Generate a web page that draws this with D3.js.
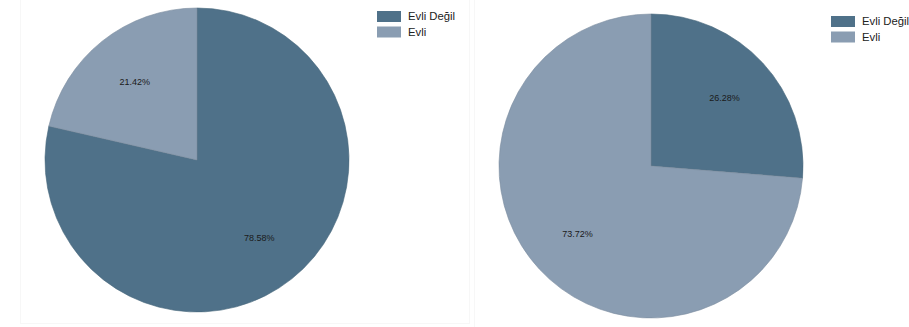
<!DOCTYPE html>
<html>
<head>
<meta charset="utf-8">
<script src="https://cdn.jsdelivr.net/npm/d3@7"></script>
<style>
body { margin: 0; background: #fff; }
svg { display: block; font-family: "Liberation Sans", Arial, sans-serif; }
</style>
</head>
<body>
<svg id="chart" width="909" height="327"></svg>
<script>
const categories = ["Evli Değil", "Evli"];
const leftValues = [78.58, 21.42];
const rightValues = [26.28, 73.72];
const colors = ["#4f7189", "#8a9db2"];

const svg = d3.select("#chart");

const panels = [
  { values: leftValues, x0: 20, x1: 469, y0: -2, y1: 323, cx: 197, cy: 160, r: 152, lx: 377, ly: 11 },
  { values: rightValues, x0: 474, x1: 915, y0: -2, y1: 330, cx: 651, cy: 166, r: 152, lx: 831, ly: 16 }
];

const color = d3.scaleOrdinal().domain(categories).range(colors);

panels.forEach(p => {
  svg.append("rect")
    .attr("x", p.x0 + 0.5).attr("y", p.y0 + 0.5)
    .attr("width", p.x1 - p.x0).attr("height", p.y1 - p.y0)
    .attr("fill", "none").attr("stroke", "#f7f7f7");

  const data = categories.map((c, i) => ({ cat: c, value: p.values[i] }));
  const pie = d3.pie().sort(null).value(d => d.value);
  const arc = d3.arc().innerRadius(0).outerRadius(p.r);
  const labelArc = d3.arc().innerRadius(100).outerRadius(100);

  const g = svg.append("g").attr("transform", `translate(${p.cx},${p.cy})`);
  const arcs = pie(data);
  g.selectAll("path").data(arcs).join("path")
    .attr("d", arc)
    .attr("fill", d => color(d.data.cat))
    .attr("stroke", d => d3.color(color(d.data.cat)).darker(0.3))
    .attr("stroke-width", 0.6);

  g.selectAll("text").data(arcs).join("text")
    .attr("transform", d => `translate(${labelArc.centroid(d)})`)
    .attr("text-anchor", "middle")
    .attr("dy", "0.35em")
    .attr("font-size", 9)
    .attr("fill", "#1a1a1a")
    .text(d => d.data.value.toFixed(2) + "%");

  const lg = svg.append("g").attr("transform", `translate(${p.lx},${p.ly})`);
  categories.forEach((c, i) => {
    lg.append("rect")
      .attr("x", 0).attr("y", i * 15.5)
      .attr("width", 24).attr("height", 11)
      .attr("fill", color(c));
    lg.append("text")
      .attr("x", 31).attr("y", i * 15.5 + 5.5)
      .attr("dy", "0.35em")
      .attr("font-size", 11.3)
      .attr("fill", "#222")
      .text(c);
  });
});
</script>
</body>
</html>
